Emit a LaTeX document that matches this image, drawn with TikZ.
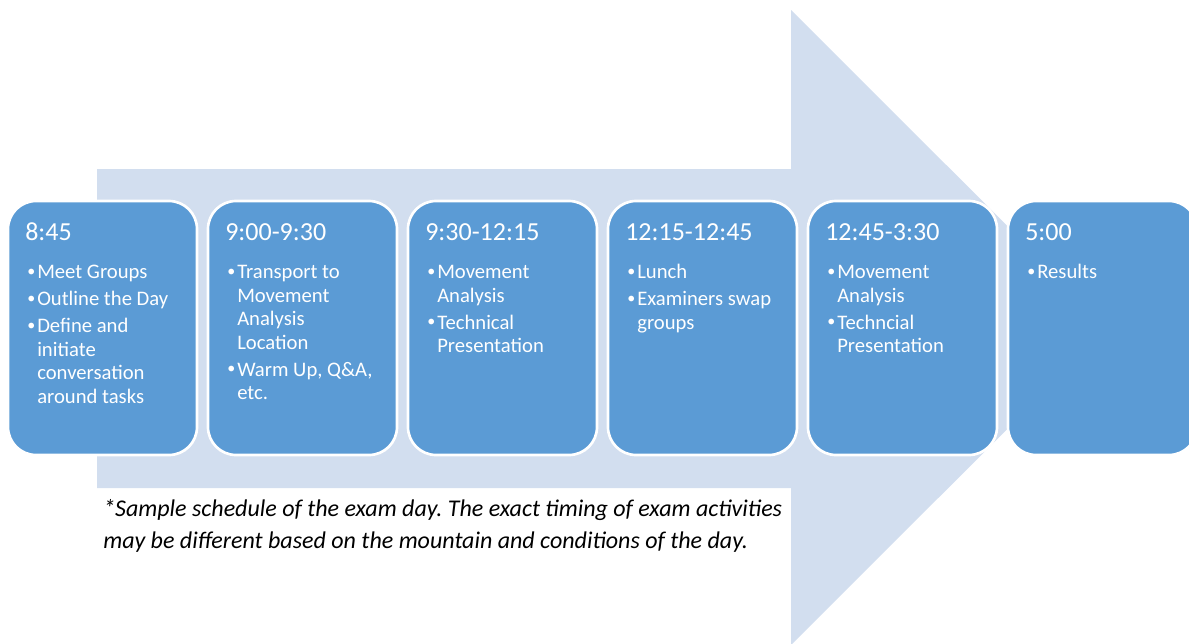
\documentclass[tikz,border=0pt]{standalone}
\usepackage{fontspec}
\setmainfont{Carlito}
\definecolor{boxblue}{HTML}{5B9BD5}
\definecolor{arrowblue}{HTML}{D2DEEF}
\newcommand{\bdot}{\raisebox{0.25ex}{\fontsize{12pt}{12pt}\selectfont\textbullet}}
\newcommand{\bitem}[1]{\par\hangindent=7.5pt\hangafter=1\noindent\makebox[7.5pt][l]{\bdot}#1\par}
\newcommand{\blist}[1]{\spaceskip=0pt\xspaceskip=0pt\setlength{\parskip}{2.6pt}#1}
\begin{document}
\begin{tikzpicture}[x=0.75pt,y=-0.75pt,
  tbox/.style={draw=white, line width=2pt, fill=boxblue, rounded corners=21pt,
    minimum width=141.75pt, minimum height=190.5pt, inner sep=0pt},
  head/.style={anchor=base west, inner sep=0pt, text=white,
    font=\fontsize{19.5pt}{22pt}\selectfont},
  blistnode/.style={anchor=base west, inner sep=0pt, text=white, align=flush left,
    text width=150pt, font=\fontsize{15.5pt}{17.6pt}\selectfont},
  note/.style={anchor=base west, inner sep=0pt, align=left, text=black,
    font=\itshape\frenchspacing\fontsize{18pt}{24pt}\selectfont}]
\useasboundingbox (0,0) rectangle (1189,643);
\clip (0,0) rectangle (1189,643);
% big arrow
\fill[arrowblue] (97,169) -- (791,169) -- (791,10) -- (1109,327.5) -- (791,645)
  -- (791,488) -- (97,488) -- cycle;
% boxes
\node[tbox] (b1) at (102.5,328) {};
\node[tbox] (b2) at (302.5,328) {};
\node[tbox] (b3) at (502.5,328) {};
\node[tbox] (b4) at (702.5,328) {};
\node[tbox] (b5) at (902.5,328) {};
\node[tbox] (b6) at (1102.5,328) {};
% headings
\node[head] (h1) at (25,240) {8:45};
\node[head] (h2) at (225,240) {9:00-9:30};
\node[head] (h3) at (425,240) {9:30-12:15};
\node[head] (h4) at (625,240) {12:15-12:45};
\node[head] (h5) at (825,240) {12:45-3:30};
\node[head] (h6) at (1025,240) {5:00};
% bullet lists
\node[blistnode] (l1) at (27,252) {\blist{\bitem{Meet Groups}\bitem{Outline the Day}\bitem{Define and\newline initiate\newline conversation\newline around tasks}}};
\node[blistnode] (l2) at (227,252) {\blist{\bitem{Transport to\newline Movement\newline Analysis\newline Location}\bitem{Warm Up, Q\&A,\newline etc.}}};
\node[blistnode] (l3) at (427,252) {\blist{\bitem{Movement\newline Analysis}\bitem{Technical\newline Presentation}}};
\node[blistnode] (l4) at (627,252) {\blist{\bitem{Lunch}\bitem{Examiners swap\newline groups}}};
\node[blistnode] (l5) at (827,252) {\blist{\bitem{Movement\newline Analysis}\bitem{Techncial\newline Presentation}}};
\node[blistnode] (l6) at (1027,252) {\blist{\bitem{Results}}};
% footnote
\node[note] (n) at (103,548) {*Sample schedule of the exam day. The exact timing of exam activities\\may be different based on the mountain and conditions of the day.};
\end{tikzpicture}
\end{document}
